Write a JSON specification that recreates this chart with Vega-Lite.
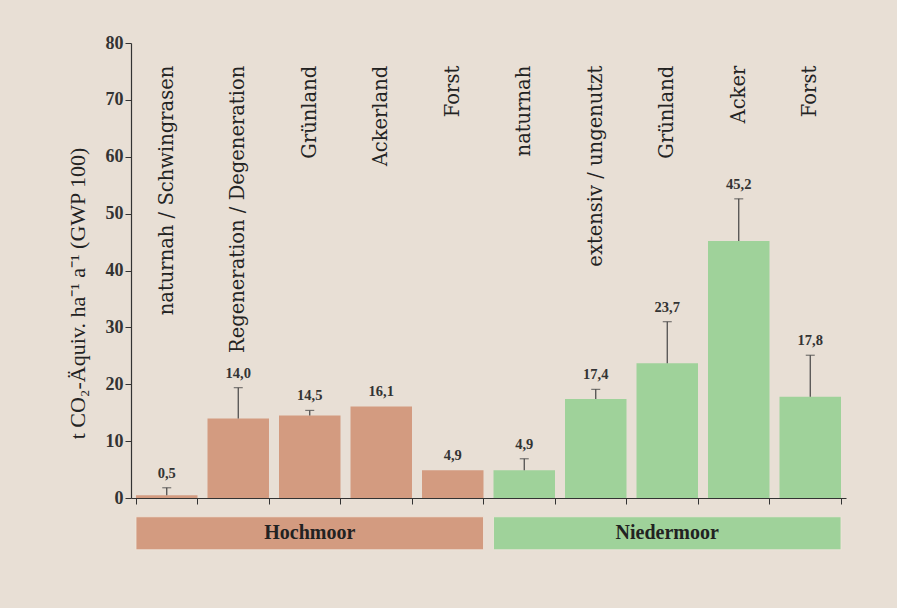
{
  "$schema": "https://vega.github.io/schema/vega-lite/v6.json",
  "width": 715,
  "height": 455,
  "autosize": {"type": "none"},
  "padding": {"left": 131, "top": 43, "right": 51, "bottom": 110},
  "background": "#e8dfd5",
  "config": {
    "view": {"stroke": null},
    "locale": {"number": {"decimal": ",", "thousands": ".", "grouping": [3], "currency": ["", " €"]}},
    "font": "Liberation Serif"
  },
  "data": {
    "values": [
      {"cat": "h1", "name": "naturnah / Schwingrasen", "group": "Hochmoor", "value": 0.5, "upper": 1.8},
      {"cat": "h2", "name": "Regeneration / Degeneration", "group": "Hochmoor", "value": 14.0, "upper": 19.4},
      {"cat": "h3", "name": "Grünland", "group": "Hochmoor", "value": 14.5, "upper": 15.4},
      {"cat": "h4", "name": "Ackerland", "group": "Hochmoor", "value": 16.1, "upper": null},
      {"cat": "h5", "name": "Forst", "group": "Hochmoor", "value": 4.9, "upper": null},
      {"cat": "n1", "name": "naturnah", "group": "Niedermoor", "value": 4.9, "upper": 6.9},
      {"cat": "n2", "name": "extensiv / ungenutzt", "group": "Niedermoor", "value": 17.4, "upper": 19.1},
      {"cat": "n3", "name": "Grünland", "group": "Niedermoor", "value": 23.7, "upper": 31.0},
      {"cat": "n4", "name": "Acker", "group": "Niedermoor", "value": 45.2, "upper": 52.6},
      {"cat": "n5", "name": "Forst", "group": "Niedermoor", "value": 17.8, "upper": 25.1}
    ]
  },
  "encoding": {
    "x": {
      "field": "cat", "type": "nominal",
      "scale": {"domain": ["h1", "h2", "h3", "h4", "h5", "n1", "n2", "n3", "n4", "n5"], "paddingInner": 0.14, "paddingOuter": 0.07},
      "axis": {"title": null, "labels": false, "tickBand": "extent", "domainColor": "#333", "tickColor": "#333", "tickSize": 6, "domainWidth": 1.2}
    }
  },
  "layer": [
    {
      "mark": {"type": "bar"},
      "encoding": {
        "y": {
          "field": "value", "type": "quantitative",
          "scale": {"domain": [0, 80], "nice": false},
          "axis": {
            "title": "t CO₂-Äquiv. ha⁻¹ a⁻¹ (GWP 100)",
            "titleFont": "Liberation Serif", "titleFontSize": 22, "titleFontWeight": "normal", "titleColor": "#222",
            "titlePadding": 16, "titleY": 250,
            "values": [0, 10, 20, 30, 40, 50, 60, 70, 80],
            "grid": false, "labelFont": "Liberation Serif", "labelFontSize": 18, "labelFontWeight": "bold", "labelColor": "#333",
            "domainColor": "#333", "tickColor": "#333", "tickSize": 6, "domainWidth": 1.2, "labelPadding": 2
          }
        },
        "color": {
          "field": "group", "type": "nominal",
          "scale": {"domain": ["Hochmoor", "Niedermoor"], "range": ["#d39b80", "#9fd29a"]},
          "legend": null
        }
      }
    },
    {
      "transform": [{"filter": "datum.upper != null"}],
      "mark": {"type": "rule", "color": "#444", "strokeWidth": 1.2},
      "encoding": {
        "y": {"field": "value", "type": "quantitative"},
        "y2": {"field": "upper"}
      }
    },
    {
      "transform": [{"filter": "datum.upper != null"}],
      "mark": {"type": "tick", "color": "#444", "size": 9, "thickness": 1.2, "orient": "horizontal"},
      "encoding": {
        "y": {"field": "upper", "type": "quantitative"}
      }
    },
    {
      "transform": [{"filter": "datum.upper != null"}],
      "mark": {"type": "text", "dy": -14, "font": "Liberation Serif", "fontSize": 14.5, "fontWeight": "bold", "color": "#333"},
      "encoding": {
        "y": {"field": "upper", "type": "quantitative"},
        "text": {"field": "value", "type": "quantitative", "format": ".1f"}
      }
    },
    {
      "transform": [{"filter": "datum.upper == null"}],
      "mark": {"type": "text", "dy": -14, "font": "Liberation Serif", "fontSize": 14.5, "fontWeight": "bold", "color": "#333"},
      "encoding": {
        "y": {"field": "value", "type": "quantitative"},
        "text": {"field": "value", "type": "quantitative", "format": ".1f"}
      }
    },
    {
      "mark": {"type": "text", "angle": 270, "align": "right", "baseline": "middle", "font": "DejaVu Serif", "fontSize": 19.5, "color": "#222"},
      "encoding": {
        "y": {"datum": 76},
        "text": {"field": "name"}
      }
    },
    {
      "data": {"values": [
        {"group": "Hochmoor", "first": "h1", "last": "h5", "mid": "h3"},
        {"group": "Niedermoor", "first": "n1", "last": "n5", "mid": "n3"}
      ]},
      "layer": [
        {
          "mark": {"type": "rect", "stroke": "#f0e6dc", "strokeWidth": 0.8},
          "encoding": {
            "x": {"field": "first", "type": "nominal", "bandPosition": 0},
            "x2": {"field": "last", "bandPosition": 1},
            "y": {"datum": -3.3},
            "y2": {"datum": -9.1},
            "color": {"field": "group", "type": "nominal"}
          }
        },
        {
          "mark": {"type": "text", "font": "Liberation Serif", "fontSize": 20, "fontWeight": "bold", "color": "#222", "baseline": "middle"},
          "encoding": {
            "x": {"field": "mid", "type": "nominal", "bandPosition": 0.5},
            "y": {"datum": -6.2},
            "text": {"field": "group"}
          }
        }
      ]
    }
  ]
}
